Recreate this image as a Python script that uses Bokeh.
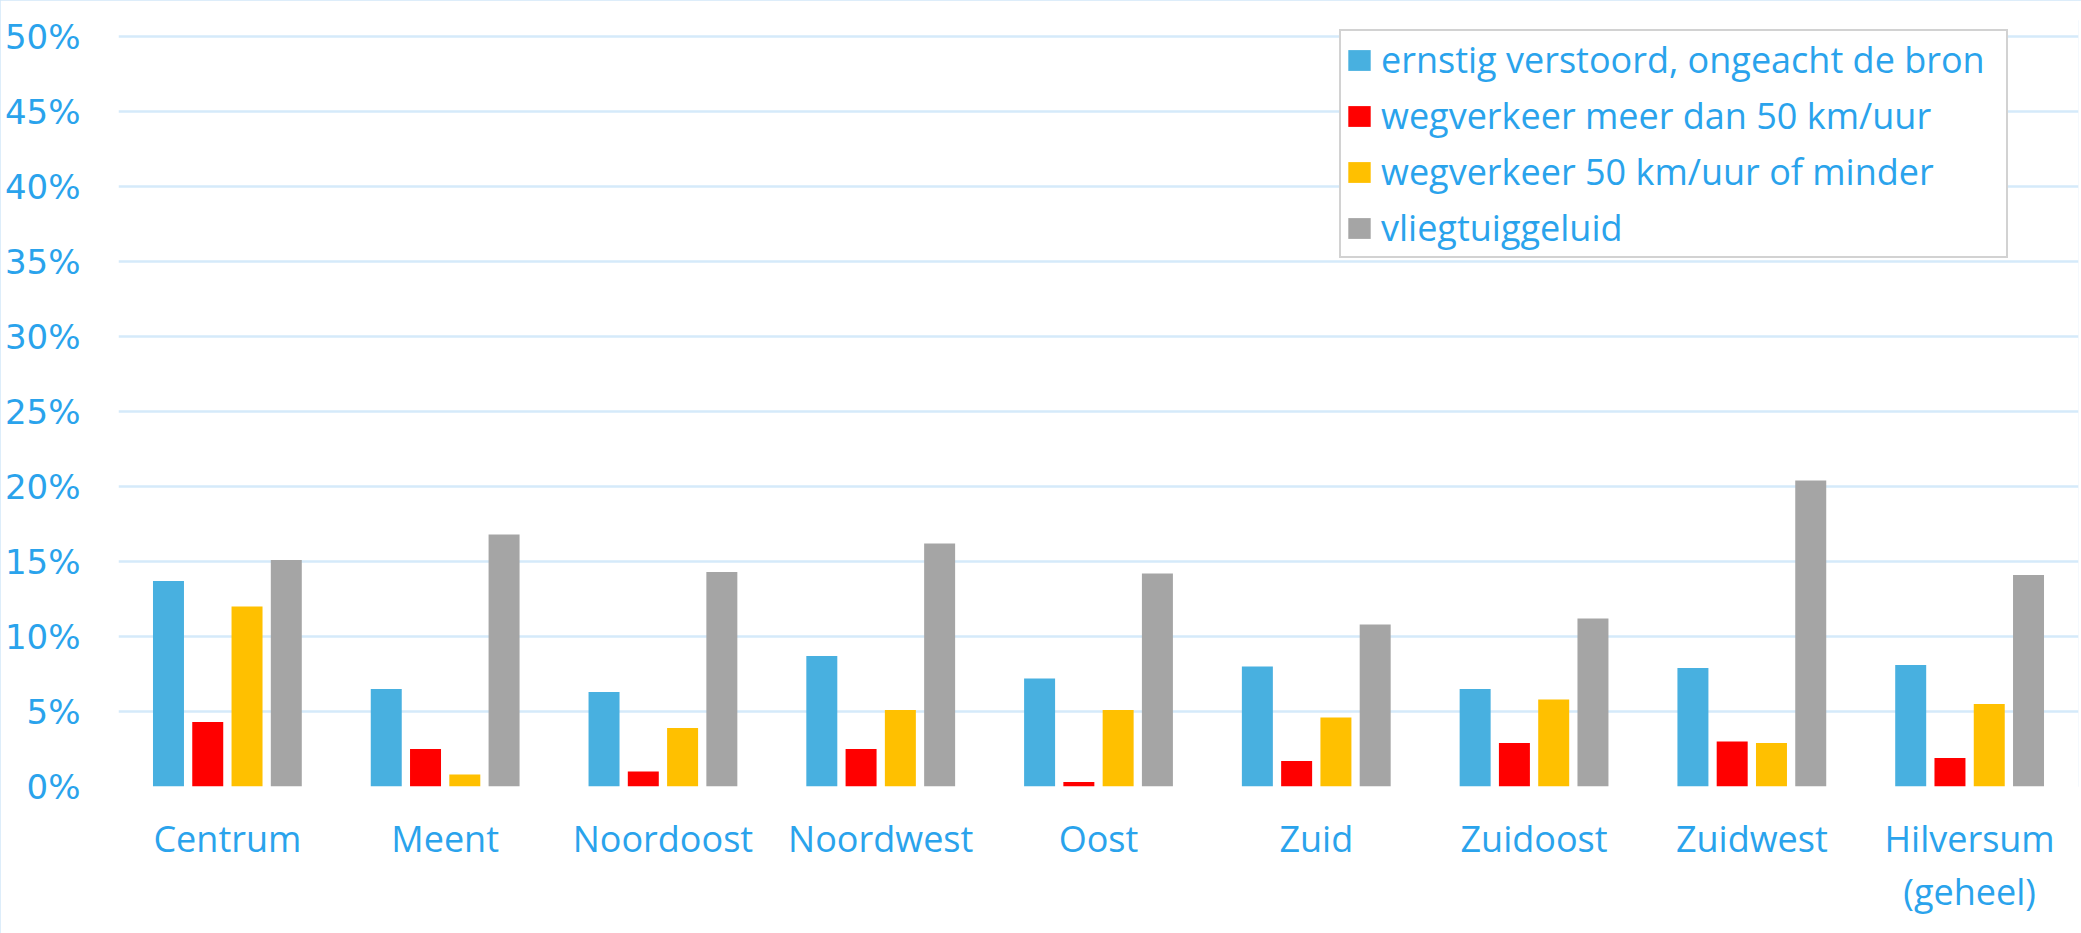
from bokeh.plotting import figure
from bokeh.models import ColumnDataSource, Range1d, FactorRange, FixedTicker, NumeralTickFormatter, Legend, LegendItem
from bokeh.transform import dodge
from bokeh.embed import file_html
from bokeh.resources import INLINE

categories = ["Centrum", "Meent", "Noordoost", "Noordwest", "Oost", "Zuid",
              "Zuidoost", "Zuidwest", "Hilversum\n(geheel)"]
series_names = ["ernstig verstoord, ongeacht de bron",
                "wegverkeer meer dan 50 km/uur",
                "wegverkeer 50 km/uur of minder",
                "vliegtuiggeluid"]
ernstig = [0.137, 0.065, 0.063, 0.087, 0.072, 0.080, 0.065, 0.079, 0.081]
weg_meer50 = [0.043, 0.025, 0.010, 0.025, 0.003, 0.017, 0.029, 0.030, 0.019]
weg_minder50 = [0.120, 0.008, 0.039, 0.051, 0.051, 0.046, 0.058, 0.029, 0.055]
vliegtuig = [0.151, 0.168, 0.143, 0.162, 0.142, 0.108, 0.112, 0.204, 0.141]
y_ticks = [0, 0.05, 0.10, 0.15, 0.20, 0.25, 0.30, 0.35, 0.40, 0.45, 0.50]

colors = ["#48b0e0", "#ff0000", "#ffc000", "#a5a5a5"]
text_blue = "#2aa3ec"
grid_blue = "#d5eafa"

source = ColumnDataSource(dict(cat=categories, s0=ernstig, s1=weg_meer50,
                               s2=weg_minder50, s3=vliegtuig))

# frame spans 766 px; 50% gridline sits 16 px below the frame top
p = figure(width=2081, height=933, output_backend="svg", toolbar_location=None,
           x_range=FactorRange(*categories), y_range=Range1d(0, 0.5107),
           min_border_left=118, min_border_right=3, min_border_top=20,
           min_border_bottom=147)

p.outline_line_color = None
p.background_fill_color = "white"
p.border_fill_color = "white"
p.styles = {"outline": "3px solid #d2e7f8", "outline-offset": "-3px"}

offsets = [-0.2705, -0.0902, 0.0902, 0.2705]
renderers = []
for i, key in enumerate(["s0", "s1", "s2", "s3"]):
    r = p.vbar(x=dodge("cat", offsets[i], range=p.x_range), top=key, width=0.1423,
               source=source, fill_color=colors[i], line_color=None)
    renderers.append(r)

# axes
p.yaxis.ticker = FixedTicker(ticks=y_ticks)
p.yaxis.formatter = NumeralTickFormatter(format="0%")
p.yaxis.axis_line_color = None
p.yaxis.major_tick_line_color = None
p.yaxis.minor_tick_line_color = None
p.yaxis.major_tick_out = 0
p.yaxis.major_label_standoff = 38
p.yaxis.major_label_text_font = "DejaVu Sans"
p.yaxis.major_label_text_font_size = "34px"
p.yaxis.major_label_text_color = text_blue

p.xaxis.axis_line_color = None
p.xaxis.major_tick_line_color = None
p.xaxis.major_tick_out = 0
p.xaxis.major_label_standoff = 27
p.xaxis.major_label_text_font = "Open Sans"
p.xaxis.major_label_text_font_size = "36px"
p.xaxis.major_label_text_line_height = 1.09
p.xaxis.major_label_text_color = text_blue

p.xgrid.grid_line_color = None
p.ygrid.grid_line_color = grid_blue
p.ygrid.grid_line_width = 2.5

legend = Legend(items=[LegendItem(label=series_names[i], renderers=[renderers[i]]) for i in range(4)],
                location=(1221, 528))
legend.label_text_font = "Open Sans"
legend.label_text_font_size = "36px"
legend.label_text_color = text_blue
legend.glyph_width = 28
legend.glyph_height = 26
legend.label_width = 621
legend.spacing = 7
legend.padding = 4
legend.label_standoff = 8
legend.border_line_color = "#a6a6a6"
legend.border_line_width = 2
legend.background_fill_color = "white"
legend.background_fill_alpha = 1.0
p.add_layout(legend)

open("out.html", "w").write(file_html(p, INLINE))
